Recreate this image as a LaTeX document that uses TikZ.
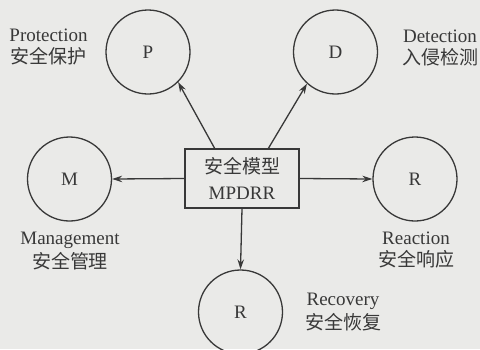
\documentclass[tikz,border=0pt]{standalone}
\usepackage{fontspec}
\setmainfont{Liberation Serif}
\newfontfamily\cjk{Noto Sans CJK SC}
\usetikzlibrary{arrows.meta}
\definecolor{bg}{HTML}{EAEAE8}
\definecolor{ink}{HTML}{383838}
\begin{document}
\begin{tikzpicture}[x=1pt,y=-1pt,
  every node/.style={text=ink,font=\fontsize{19}{20}\selectfont},
  stage/.style={circle,draw=ink,line width=1.3pt,minimum size=84pt,inner sep=0pt},
  core/.style={draw=ink,line width=1.3pt,minimum width=114pt,minimum height=59pt,align=center,inner sep=2pt},
  lbl/.style={align=center,inner sep=0pt},
  link/.style={draw=ink,line width=1.3pt,-{Stealth[length=10pt,width=6.5pt]}}]
\fill[bg] (0,0) rectangle (480,349);
\useasboundingbox (0,0) rectangle (480,349);
\node[stage] (P) at (148,52) {P};
\node[stage] (D) at (335.5,52) {D};
\node[stage] (M) at (69.5,179) {M};
\node[stage] (RR) at (415,179) {R};
\node[stage] (RB) at (240.5,312) {R};
\node[core] (C) at (242,178.5) {{\cjk 安全模型}\\[6pt]MPDRR};
\node[lbl] (lp) at (48.5,47) {Protection\\[2pt]{\cjk 安全保护}};
\node[lbl] (ld) at (440,48) {Detection\\[2pt]{\cjk 入侵检测}};
\node[lbl] (lm) at (70,251) {Management\\[2pt]{\cjk 安全管理}};
\node[lbl] (lr) at (416,250.5) {Reaction\\[2pt]{\cjk 安全响应}};
\node[lbl] (lb) at (343,312) {Recovery\\[2pt]{\cjk 安全恢复}};
\coordinate (cp) at (215,149);
\coordinate (cd) at (268,149);
\draw[link] (cp) -- (P.-45);
\draw[link] (cd) -- (D.-132);
\draw[link] (C.west) -- (M.east);
\draw[link] (C.east) -- (RR.west);
\draw[link] (C.south) -- (RB.north);
\end{tikzpicture}
\end{document}
